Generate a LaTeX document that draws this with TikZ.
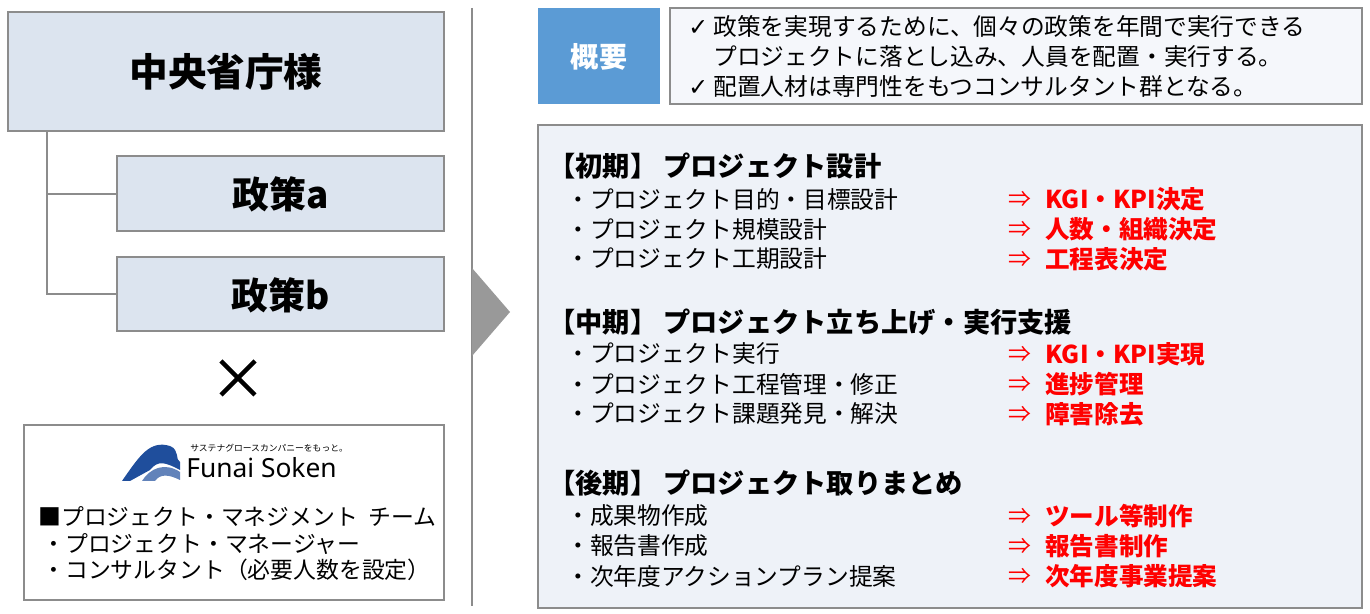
\documentclass[tikz,border=0pt]{standalone}
\usepackage{fontspec}
\setmainfont{Noto Sans CJK JP}
\newfontfamily\symfont{DejaVu Sans}
\newfontfamily\latinfont{Noto Sans}
\definecolor{boxblue}{HTML}{DCE4EF}
\definecolor{panel}{HTML}{EEF2F8}
\definecolor{headblue}{HTML}{5B9BD5}
\definecolor{framegray}{HTML}{8C8C8C}
\definecolor{logoblue}{HTML}{1F4E9C}
\tikzset{
  orgbox/.style={draw=framegray, fill=boxblue, line width=1.2pt},
  item/.style={anchor=west, inner sep=0pt, font=\fontsize{13.5}{16}\selectfont},
  head/.style={anchor=west, inner sep=0pt, font=\fontsize{15.5}{18}\selectfont\bfseries},
  result/.style={anchor=west, inner sep=0pt, text=red, font=\fontsize{14}{16}\selectfont\bfseries},
  goes/.style={anchor=west, inner sep=0pt, text=red, font=\fontsize{13}{16}\selectfont},
}
\begin{document}
\begin{tikzpicture}[x=0.02cm,y=-0.02cm]
  \useasboundingbox (0,0) rectangle (1370,614);
  % left side
  \draw [orgbox] (8,12) rectangle (444,131);
  \node (gov) at (226,72) {\fontsize{22}{24}\selectfont\bfseries 中央省庁様};
  \draw [orgbox] (117,156) rectangle (444,231);
  \node (pa) at (281,194) {\fontsize{21}{23}\selectfont\bfseries 政策a};
  \draw [orgbox] (117,257) rectangle (444,331);
  \node (pb) at (281,295) {\fontsize{21}{23}\selectfont\bfseries 政策b};
  \coordinate (root) at (47,131);
  \draw [framegray, line width=0.8pt] (root) |- (117,194) (root) |- (117,294);
  \node (times) at (238,378) {};
  \draw [black, line width=2.5pt] (221,361) -- (255,395) (221,395) -- (255,361);
  % team box
  \draw [draw=framegray, line width=1.2pt, fill=white] (24,425) rectangle (444,600);
  \fill [logoblue] (122,481) .. controls (140,455) and (150,440) .. (170,446)
    .. controls (180,450) and (175,460) .. (180,462) -- (180,470)
    .. controls (165,462) and (158,460) .. (150,470) -- (130,481) -- cycle;
  \fill [logoblue!70] (142,481) .. controls (150,468) and (165,462) .. (180,472)
    -- (180,480) .. controls (168,474) and (160,474) .. (155,481) -- cycle;
  \node (tag) [anchor=west, inner sep=0pt] at (190,448) {\fontsize{5}{6}\selectfont サステナグロースカンパニーをもっと。};
  \node (funai) [anchor=west, inner sep=0pt] at (186,468) {\latinfont\fontsize{15}{17}\selectfont Funai Soken};
  \node (team) [item, font=\fontsize{13}{15}\selectfont] at (38,517) {■プロジェクト・マネジメント\ \ チーム};
  \node (pm) [item, font=\fontsize{13}{15}\selectfont] at (42,544) {・プロジェクト・マネージャー};
  \node (cons) [item, font=\fontsize{13}{15}\selectfont] at (42,570) {・コンサルタント（必要人数を設定）};
  % separator and chevron
  \draw [framegray, line width=0.8pt] (472,8) -- (472,606);
  \fill [gray!80] (472,268) -- (510,312) -- (472,356) -- cycle;
  % summary
  \fill [headblue] (538,8) rectangle (660,104);
  \node (gaiyo) [text=white] at (599,57) {\fontsize{16}{18}\selectfont\bfseries 概要};
  \draw [draw=framegray, line width=1.2pt, fill=panel!60] (670,8) rectangle (1362,104);
  \node (s1) [item] at (688,27) {{\symfont ✓} 政策を実現するために、個々の政策を年間で実行できる};
  \node (s2) [item] at (713,57) {プロジェクトに落とし込み、人員を配置・実行する。};
  \node (s3) [item] at (688,87) {{\symfont ✓} 配置人材は専門性をもつコンサルタント群となる。};
  % phases
  \draw [draw=framegray, line width=1.2pt, fill=panel] (538,125) rectangle (1362,608);
  \node (h1) [head] at (548,166) {【初期】\ プロジェクト設計};
  \node (i11) [item] at (566,199) {・プロジェクト目的・目標設計};
  \node (i12) [item] at (566,229) {・プロジェクト規模設計};
  \node (i13) [item] at (566,259) {・プロジェクト工期設計};
  \node (h2) [head] at (548,322) {【中期】\ プロジェクト立ち上げ・実行支援};
  \node (i21) [item] at (566,354) {・プロジェクト実行};
  \node (i22) [item] at (566,384) {・プロジェクト工程管理・修正};
  \node (i23) [item] at (566,414) {・プロジェクト課題発見・解決};
  \node (h3) [head] at (548,483) {【後期】\ プロジェクト取りまとめ};
  \node (i31) [item] at (566,516) {・成果物作成};
  \node (i32) [item] at (566,546) {・報告書作成};
  \node (i33) [item] at (566,576) {・次年度アクションプラン提案};
  \foreach \y/\t in {199/KGI・KPI決定, 229/人数・組織決定, 259/工程表決定,
                     354/KGI・KPI実現, 384/進捗管理, 414/障害除去,
                     516/ツール等制作, 546/報告書制作, 576/次年度事業提案} {
    \node [goes] at (1008,\y) {⇒};
    \node [result] at (1045,\y) {\t};
  }
\end{tikzpicture}
\end{document}
